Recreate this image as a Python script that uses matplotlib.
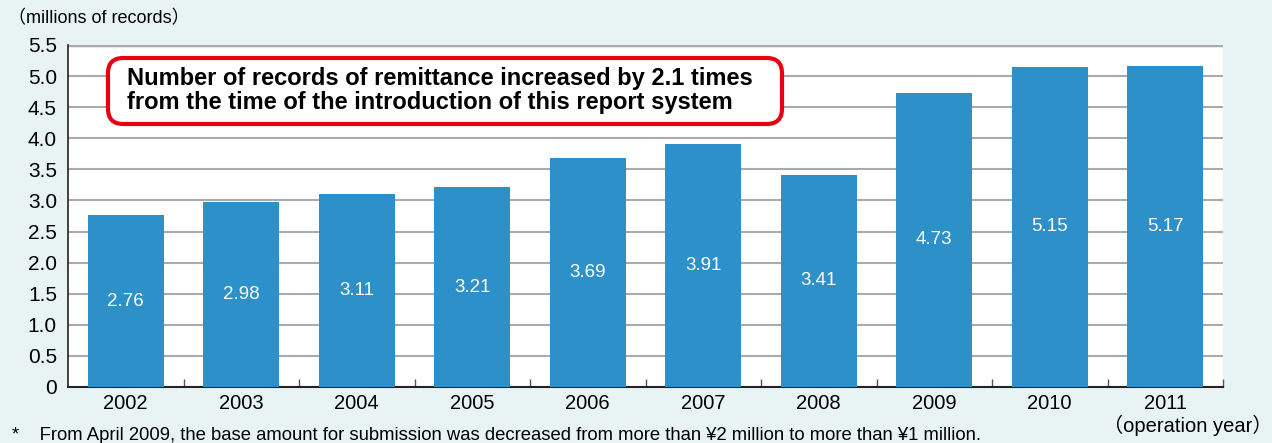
import matplotlib
matplotlib.use("Agg")
import matplotlib.pyplot as plt
from matplotlib.patches import FancyBboxPatch

years = ["2002", "2003", "2004", "2005", "2006", "2007", "2008", "2009", "2010", "2011"]
values = [2.76, 2.98, 3.11, 3.21, 3.69, 3.91, 3.41, 4.73, 5.15, 5.17]
yticks = [0, 0.5, 1.0, 1.5, 2.0, 2.5, 3.0, 3.5, 4.0, 4.5, 5.0, 5.5]
ytick_labels = ["0", "0.5", "1.0", "1.5", "2.0", "2.5", "3.0", "3.5", "4.0", "4.5", "5.0", "5.5"]

FAM = ["Liberation Sans", "Noto Sans CJK JP", "DejaVu Sans"]
plt.rcParams["font.family"] = FAM

bg = "#E8F4F4"
bar_color = "#2E90C8"

fig = plt.figure(figsize=(12.72, 4.43), dpi=100, facecolor=bg)
ax = fig.add_axes([68/1272, 1-387/443, (1223-68)/1272, (387-45)/443])
ax.set_facecolor("white")

x = list(range(len(years)))
bars = ax.bar(x, values, width=0.66, color=bar_color, zorder=3)
ax.set_xlim(-0.5, len(years) - 0.5)
ax.set_ylim(0, 5.5)
ax.set_yticks(yticks)
ax.set_yticklabels(ytick_labels, fontsize=15)
ax.set_xticks(x)
ax.set_xticklabels(years, fontsize=14.5)
ax.tick_params(axis="x", length=0, pad=5)
ax.tick_params(axis="y", length=0, pad=8)
ax.set_xticks([i + 0.5 for i in x], minor=True)
ax.tick_params(axis="x", which="minor", direction="in", length=6, color="#555555", width=1)

for yt in yticks[1:]:
    ax.axhline(yt, color="#AAAAAA", lw=1.5 if yt < 5.5 else 2.5, zorder=1)

for s in ["top", "right"]:
    ax.spines[s].set_visible(False)
ax.spines["left"].set_color("#222222")
ax.spines["bottom"].set_color("#222222")
ax.spines["left"].set_linewidth(1.2)
ax.spines["bottom"].set_linewidth(1.5)

for xi, v in zip(x, values):
    ax.text(xi, v / 2, f"{v:.2f}", color="white", ha="center", va="center", fontsize=13.5, zorder=4)

# annotation box
box = FancyBboxPatch((108/1272, 1-124/443), (782-108)/1272, (124-58)/443,
                     boxstyle="round,pad=0,rounding_size=0.012",
                     transform=fig.transFigure, facecolor="white", edgecolor="#E60012",
                     lw=3, zorder=5, mutation_aspect=1272/443)
fig.patches.append(box)
fig.text(127/1272, 1-78/443, "Number of records of remittance increased by 2.1 times",
         fontsize=17, fontweight="bold", ha="left", va="center", zorder=6)
fig.text(127/1272, 1-103/443, "from the time of the introduction of this report system",
         fontsize=17, fontweight="bold", ha="left", va="center", zorder=6)

fig.text(8/1272, 1-19/443, "（millions of records）", fontsize=13, ha="left", va="center")
fig.text(1188/1272, 1-425/443, "（operation year）", fontsize=14.5, ha="center", va="center")
fig.text(12/1272, 1-436/443, "*    From April 2009, the base amount for submission was decreased from more than ¥2 million to more than ¥1 million.",
         fontsize=13.3, ha="left", va="center")

fig.savefig("out.png", dpi=100, facecolor=bg)
